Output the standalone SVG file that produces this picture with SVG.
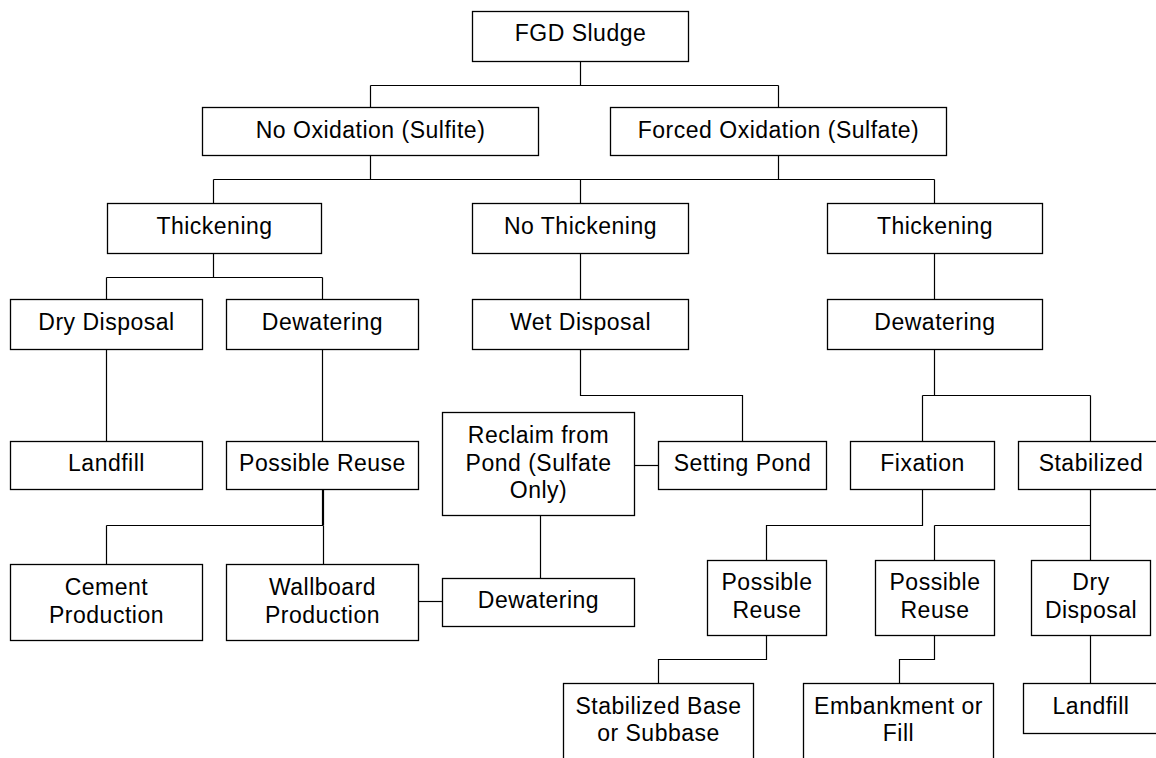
<svg xmlns="http://www.w3.org/2000/svg" width="1156" height="758" viewBox="0 0 1156 758">
<style>
  .box rect { fill: #ffffff; stroke: #000000; stroke-width: 1.3; }
  .box text { font-family: "Liberation Sans", Arial, sans-serif; font-size: 23px; letter-spacing: 0.5px; fill: #000000; text-anchor: middle; }
  #connectors path { fill: none; stroke: #000000; stroke-width: 1.2; }
</style>
<rect x="0" y="0" width="1156" height="758" fill="#ffffff"/>
<g id="connectors">
  <path d="M580.5,61 V85.5 M370.5,85.5 H778.5 M370.5,85.5 V107 M778.5,85.5 V107"/>
  <path d="M370.5,155 V179.5 M778.5,155 V179.5 M213.5,179.5 H934.5 M213.5,179.5 V203 M580.5,179.5 V203 M934.5,179.5 V203"/>
  <path d="M213.5,253 V277.5 M106.5,277.5 H322.5 M106.5,277.5 V299 M322.5,277.5 V299"/>
  <path d="M106.5,349 V441 M322.5,349 V441"/>
  <path d="M580.5,253 V299 M580.5,349 V395.5 H742.5 V441"/>
  <path d="M934.5,253 V299 M934.5,349 V395.5 M922.5,395.5 H1090.5 M922.5,395.5 V441 M1090.5,395.5 V441"/>
  <path d="M634,465.5 H658"/>
  <path d="M323,489 V525" style="stroke-width:2.2"/>
  <path d="M106.5,525.5 H323.5 M106.5,525.5 V564 M323.5,525.5 V564"/>
  <path d="M419,601.5 H442"/>
  <path d="M540.5,516 V578"/>
  <path d="M922.5,489 V525.5 H766.5 V560"/>
  <path d="M1090.5,489 V560 M934.5,525.5 H1090.5 M934.5,525.5 V560"/>
  <path d="M766.5,635 V659.5 H658.5 V683"/>
  <path d="M934.5,635 V659.5 H899.5 V683"/>
  <path d="M1090.5,635 V683"/>
</g>
<g id="n-fgd" class="box"><rect x="472.5" y="11.5" width="216" height="50"/><text x="580.5" y="41">FGD Sludge</text></g>
<g id="n-noox" class="box"><rect x="202.5" y="107.5" width="336" height="48"/><text x="370.5" y="137.5">No Oxidation (Sulfite)</text></g>
<g id="n-forcedox" class="box"><rect x="610.5" y="107.5" width="336" height="48"/><text x="778.5" y="137.5">Forced Oxidation (Sulfate)</text></g>
<g id="n-thick-l" class="box"><rect x="107.5" y="203.5" width="214" height="50"/><text x="214.5" y="233.5">Thickening</text></g>
<g id="n-nothick" class="box"><rect x="472.5" y="203.5" width="216" height="50"/><text x="580.5" y="233.5">No Thickening</text></g>
<g id="n-thick-r" class="box"><rect x="827.5" y="203.5" width="215" height="50"/><text x="935" y="233.5">Thickening</text></g>
<g id="n-dry-l" class="box"><rect x="10.5" y="299.5" width="192" height="50"/><text x="106.5" y="329.5">Dry Disposal</text></g>
<g id="n-dew-l" class="box"><rect x="226.5" y="299.5" width="192" height="50"/><text x="322.5" y="329.5">Dewatering</text></g>
<g id="n-wet" class="box"><rect x="472.5" y="299.5" width="216" height="50"/><text x="580.5" y="329.5">Wet Disposal</text></g>
<g id="n-dew-r" class="box"><rect x="827.5" y="299.5" width="215" height="50"/><text x="935" y="329.5">Dewatering</text></g>
<g id="n-land-l" class="box"><rect x="10.5" y="441.5" width="192" height="48"/><text x="106.5" y="470.5">Landfill</text></g>
<g id="n-reuse-l" class="box"><rect x="226.5" y="441.5" width="192" height="48"/><text x="322.5" y="470.5">Possible Reuse</text></g>
<g id="n-reclaim" class="box"><rect x="442.5" y="412.5" width="192" height="103"/><text x="538.5" y="443">Reclaim from</text><text x="538.5" y="470.5">Pond (Sulfate</text><text x="538.5" y="498">Only)</text></g>
<g id="n-pond" class="box"><rect x="658.5" y="441.5" width="168" height="48"/><text x="742.5" y="470.5">Setting Pond</text></g>
<g id="n-fix" class="box"><rect x="850.5" y="441.5" width="144" height="48"/><text x="922.5" y="470.5">Fixation</text></g>
<g id="n-stab" class="box"><rect x="1018.5" y="441.5" width="145" height="48"/><text x="1091" y="470.5">Stabilized</text></g>
<g id="n-cement" class="box"><rect x="10.5" y="564.5" width="192" height="76"/><text x="106.5" y="595">Cement</text><text x="106.5" y="622.5">Production</text></g>
<g id="n-wall" class="box"><rect x="226.5" y="564.5" width="192" height="76"/><text x="322.5" y="595">Wallboard</text><text x="322.5" y="622.5">Production</text></g>
<g id="n-dew-m" class="box"><rect x="442.5" y="578.5" width="192" height="48"/><text x="538.5" y="607.5">Dewatering</text></g>
<g id="n-reuse-1" class="box"><rect x="707.5" y="560.5" width="119" height="75"/><text x="767" y="590">Possible</text><text x="767" y="617.5">Reuse</text></g>
<g id="n-reuse-2" class="box"><rect x="875.5" y="560.5" width="119" height="75"/><text x="935" y="590">Possible</text><text x="935" y="617.5">Reuse</text></g>
<g id="n-dry-r" class="box"><rect x="1031.5" y="560.5" width="119" height="75"/><text x="1091" y="590">Dry</text><text x="1091" y="617.5">Disposal</text></g>
<g id="n-stabbase" class="box"><rect x="563.5" y="683.5" width="190" height="80"/><text x="658.5" y="713.5">Stabilized Base</text><text x="658.5" y="741">or Subbase</text></g>
<g id="n-emb" class="box"><rect x="803.5" y="683.5" width="190" height="80"/><text x="898.5" y="713.5">Embankment or</text><text x="898.5" y="741">Fill</text></g>
<g id="n-land-r" class="box"><rect x="1023.5" y="683.5" width="136" height="50"/><text x="1091" y="713.5">Landfill</text></g>
</svg>
